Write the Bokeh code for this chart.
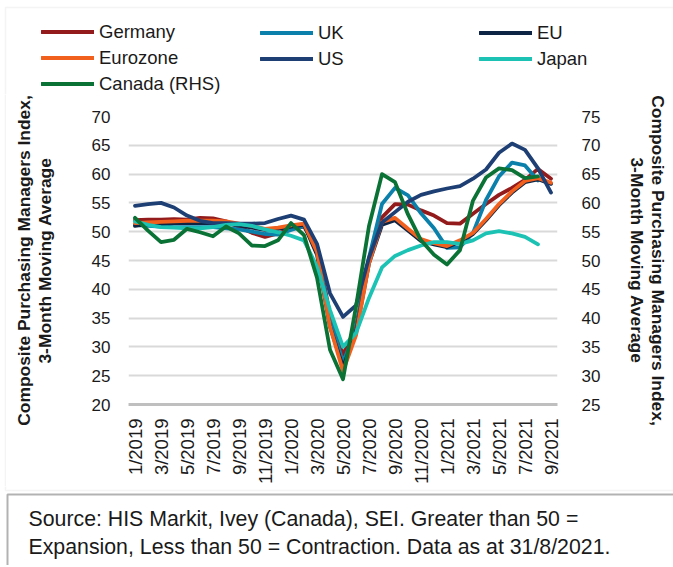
import math
from bokeh.plotting import figure
from bokeh.layouts import column, row
from bokeh.models import Range1d, LinearAxis, FixedTicker, Legend, LegendItem, Label, BoxAnnotation
from bokeh.embed import file_html
from bokeh.resources import INLINE

months = ["1/2019", "2/2019", "3/2019", "4/2019", "5/2019", "6/2019", "7/2019", "8/2019",
          "9/2019", "10/2019", "11/2019", "12/2019", "1/2020", "2/2020", "3/2020", "4/2020",
          "5/2020", "6/2020", "7/2020", "8/2020", "9/2020", "10/2020", "11/2020", "12/2020",
          "1/2021", "2/2021", "3/2021", "4/2021", "5/2021", "6/2021", "7/2021", "8/2021", "9/2021"]

germany = [52.0, 52.1, 52.1, 52.2, 52.1, 52.4, 52.3, 51.8, 50.8, 49.8, 49.1, 49.7, 50.5, 50.9,
           47.5, 35.5, 28.6, 33.5, 45.0, 52.5, 54.8, 54.7, 53.7, 52.8, 51.5, 51.4, 53.1, 54.8,
           56.4, 57.6, 59.0, 60.9, 59.2]
eurozone = [51.5, 51.6, 51.7, 51.8, 51.9, 51.9, 51.9, 51.8, 51.4, 51.0, 50.5, 50.7, 51.1, 51.4,
            46.5, 33.5, 25.8, 32.0, 44.5, 51.7, 52.4, 50.5, 48.7, 48.0, 47.5, 48.5, 49.8, 52.2,
            54.8, 57.0, 58.8, 59.3, 58.5]
eu = [51.0, 51.3, 51.4, 51.5, 51.5, 51.5, 51.5, 51.4, 51.1, 50.7, 50.3, 50.5, 50.9, 51.2,
      46.0, 33.5, 26.5, 32.5, 44.5, 51.2, 52.0, 50.2, 48.4, 47.8, 47.3, 48.3, 49.6, 52.0,
      54.6, 56.8, 58.6, 59.1, 58.3]
uk = [51.2, 51.0, 50.9, 50.8, 50.8, 50.8, 50.8, 50.6, 50.4, 50.0, 49.6, 49.5, 50.3, 51.0,
      47.0, 35.0, 27.3, 33.0, 45.5, 54.8, 57.6, 56.3, 53.2, 50.6, 47.2, 47.3, 49.8, 55.5,
      59.6, 62.0, 61.5, 58.9, float("nan")]
us = [54.5, 54.8, 55.0, 54.2, 52.8, 51.9, 51.5, 51.5, 51.4, 51.4, 51.5, 52.2, 52.8, 52.1,
      47.9, 39.3, 35.2, 37.2, 45.5, 51.6, 53.4, 55.2, 56.4, 57.0, 57.5, 57.9, 59.2, 60.8,
      63.7, 65.3, 64.2, 61.0, 56.8]
japan = [51.8, 51.2, 50.8, 50.7, 50.6, 50.6, 50.8, 51.2, 51.3, 51.0, 50.4, 49.9, 49.3, 48.5,
         43.9, 36.4, 30.0, 32.4, 38.5, 43.8, 45.8, 46.8, 47.6, 48.2, 48.2, 47.9, 48.5, 49.7,
         50.1, 49.7, 49.1, 47.8, float("nan")]
canada_rhs = [57.4, 55.2, 53.2, 53.6, 55.5, 54.9, 54.2, 55.9, 54.7, 52.6, 52.5, 53.5, 56.5, 54.4,
              47.0, 34.5, 29.4, 42.0, 56.0, 65.0, 63.6, 58.0, 53.5, 51.0, 49.3, 51.8, 60.4, 64.4,
              66.0, 65.7, 64.3, 64.6, float("nan")]

left_ticks = [20, 25, 30, 35, 40, 45, 50, 55, 60, 65, 70]
right_ticks = [25, 30, 35, 40, 45, 50, 55, 60, 65, 70, 75]

source_lines = ["Source: HIS Markit, Ivey (Canada), SEI. Greater than 50 =",
                "Expansion, Less than 50 = Contraction. Data as at 31/8/2021."]

series = [  # (name, values, colour, axis)
    ("Germany", germany, "#941b1b", "default"),
    ("UK", uk, "#0a80aa", "default"),
    ("EU", eu, "#0e2444", "default"),
    ("Eurozone", eurozone, "#f2601e", "default"),
    ("US", us, "#1e3f74", "default"),
    ("Japan", japan, "#1cc2b4", "default"),
    ("Canada (RHS)", canada_rhs, "#0b7236", "rhs"),
]
legend_columns = [["Germany", "Eurozone", "Canada (RHS)"], ["UK", "US"], ["EU", "Japan"]]

FONT = "Liberation Sans"
TXT = "#1a1a1a"
GRAY_BORDER = "#d9d9d9"
W = 673
LW = 3.8
idx = list(range(len(months)))


def blank(width, height, y_flip=False):
    fig = figure(width=width, height=height, output_backend="svg", toolbar_location=None,
                 frame_align=False, x_range=Range1d(0, width),
                 y_range=Range1d(height, 0) if y_flip else Range1d(0, height),
                 x_axis_type=None, y_axis_type=None,
                 min_border_left=0, min_border_right=0, min_border_top=0, min_border_bottom=0,
                 background_fill_color="white", border_fill_color="white")
    fig.outline_line_color = None
    fig.grid.visible = False
    return fig


# ---------------- legend strip ----------------
H0 = 94
lg = blank(W, H0, y_flip=True)
lg.add_layout(BoxAnnotation(left=5, right=W + 50, top=7, bottom=H0 + 50,
                            fill_alpha=0, line_color=GRAY_BORDER, line_width=1.5))
swatch = {}
for name, vals, col, ax in series:
    swatch[name] = lg.line([float("nan")], [float("nan")], line_color=col, line_width=LW,
                           line_cap="round")

col_x = [41, 260, 479]
ROW = 25
for cx, names in zip(col_x, legend_columns):
    n = len(names)
    hgt = ROW * n
    leg = Legend(items=[LegendItem(label=nm, renderers=[swatch[nm]]) for nm in names],
                 orientation="vertical", location=(cx, H0 - 21 - hgt),
                 glyph_width=53, glyph_height=ROW, label_height=ROW, label_standoff=5, spacing=1,
                 padding=0, margin=0, border_line_color=None, background_fill_alpha=0,
                 label_text_font=FONT, label_text_font_size="18.5px", label_text_color=TXT)
    lg.add_layout(leg, "center")

# ---------------- main chart ----------------
H1 = 486 - H0
STRIP = 6
W1 = W - STRIP
ML, MR, MT, MB = 128 - STRIP, 116, 116 - H0, 81
p = figure(width=W1, height=H1, output_backend="svg", toolbar_location=None, frame_align=False,
           x_range=Range1d(-0.5, len(months) - 0.5), y_range=Range1d(left_ticks[0], left_ticks[-1]),
           min_border_left=ML, min_border_right=MR, min_border_top=MT, min_border_bottom=MB,
           background_fill_color="white", border_fill_color="white")
p.extra_y_ranges = {"rhs": Range1d(right_ticks[0], right_ticks[-1])}
p.outline_line_color = None
p.xgrid.visible = False
p.ygrid.ticker = FixedTicker(ticks=left_ticks)
p.ygrid.grid_line_color = "#d9d9d9"
p.ygrid.grid_line_width = 2

xa = p.xaxis[0]
tick_idx = idx[::2]
xa.ticker = FixedTicker(ticks=tick_idx)
xa.major_label_overrides = {i: months[i] for i in tick_idx}
xa.major_label_orientation = math.pi / 2
xa.major_tick_line_color = None
xa.minor_tick_line_color = None
xa.axis_line_color = "#bfbfbf"
xa.axis_line_width = 3
xa.major_label_standoff = 8
xa.major_label_text_font = FONT
xa.major_label_text_font_size = "18.5px"
xa.major_label_text_color = TXT

AXLABEL = "Composite Purchasing Managers Index,\n3-Month Moving Average"

ya = p.yaxis[0]
ya.ticker = FixedTicker(ticks=left_ticks)
ya.axis_line_color = None
ya.major_tick_line_color = None
ya.minor_tick_line_color = None
ya.major_label_standoff = 12
ya.major_label_text_font = FONT
ya.major_label_text_font_size = "17px"
ya.major_label_text_color = TXT
ya.axis_label = AXLABEL
ya.axis_label_text_font = FONT
ya.axis_label_text_font_style = "bold"
ya.axis_label_text_font_size = "17.4px"
ya.axis_label_text_color = TXT
ya.axis_label_text_line_height = 1.05
ya.axis_label_standoff = 34

ra = LinearAxis(y_range_name="rhs", ticker=FixedTicker(ticks=right_ticks))
ra.axis_line_color = None
ra.major_tick_line_color = None
ra.minor_tick_line_color = None
ra.major_label_standoff = 18
ra.major_label_text_font = FONT
ra.major_label_text_font_size = "17px"
ra.major_label_text_color = TXT
ra.axis_label = AXLABEL
ra.axis_label_text_font = FONT
ra.axis_label_text_font_style = "bold"
ra.axis_label_text_font_size = "17.4px"
ra.axis_label_text_color = TXT
ra.axis_label_text_line_height = 1.05
ra.axis_label_standoff = 24
p.add_layout(ra, "right")

for name, vals, col, ax in series:
    p.line(idx, vals, line_color=col, line_width=LW, line_join="round", line_cap="round",
           y_range_name=ax)

# thin strip carrying the left edge of the chart border
st = blank(STRIP, H1)
st.add_layout(BoxAnnotation(left=5, right=STRIP + 50, top=H1 + 50, bottom=-50,
                            fill_alpha=0, line_color=GRAY_BORDER, line_width=1.5))

# ---------------- source box ----------------
H2 = 79
s = blank(W, H2, y_flip=True)
s.add_layout(BoxAnnotation(left=5, right=W + 50, top=-50, bottom=4,
                           fill_alpha=0, line_color=GRAY_BORDER, line_width=1.5))
s.add_layout(BoxAnnotation(left=7, right=W + 50, top=8, bottom=H2 + 50,
                           fill_alpha=0, line_color="#000000", line_width=2))
for t, cy in zip(source_lines, (32, 60)):
    s.add_layout(Label(x=28, y=cy, text=t, text_font=FONT, text_font_size="21.3px",
                       text_color=TXT, text_baseline="middle"))

layout = column(lg, row(st, p, spacing=0), s, spacing=0)
open("out.html", "w").write(file_html(layout, INLINE))
